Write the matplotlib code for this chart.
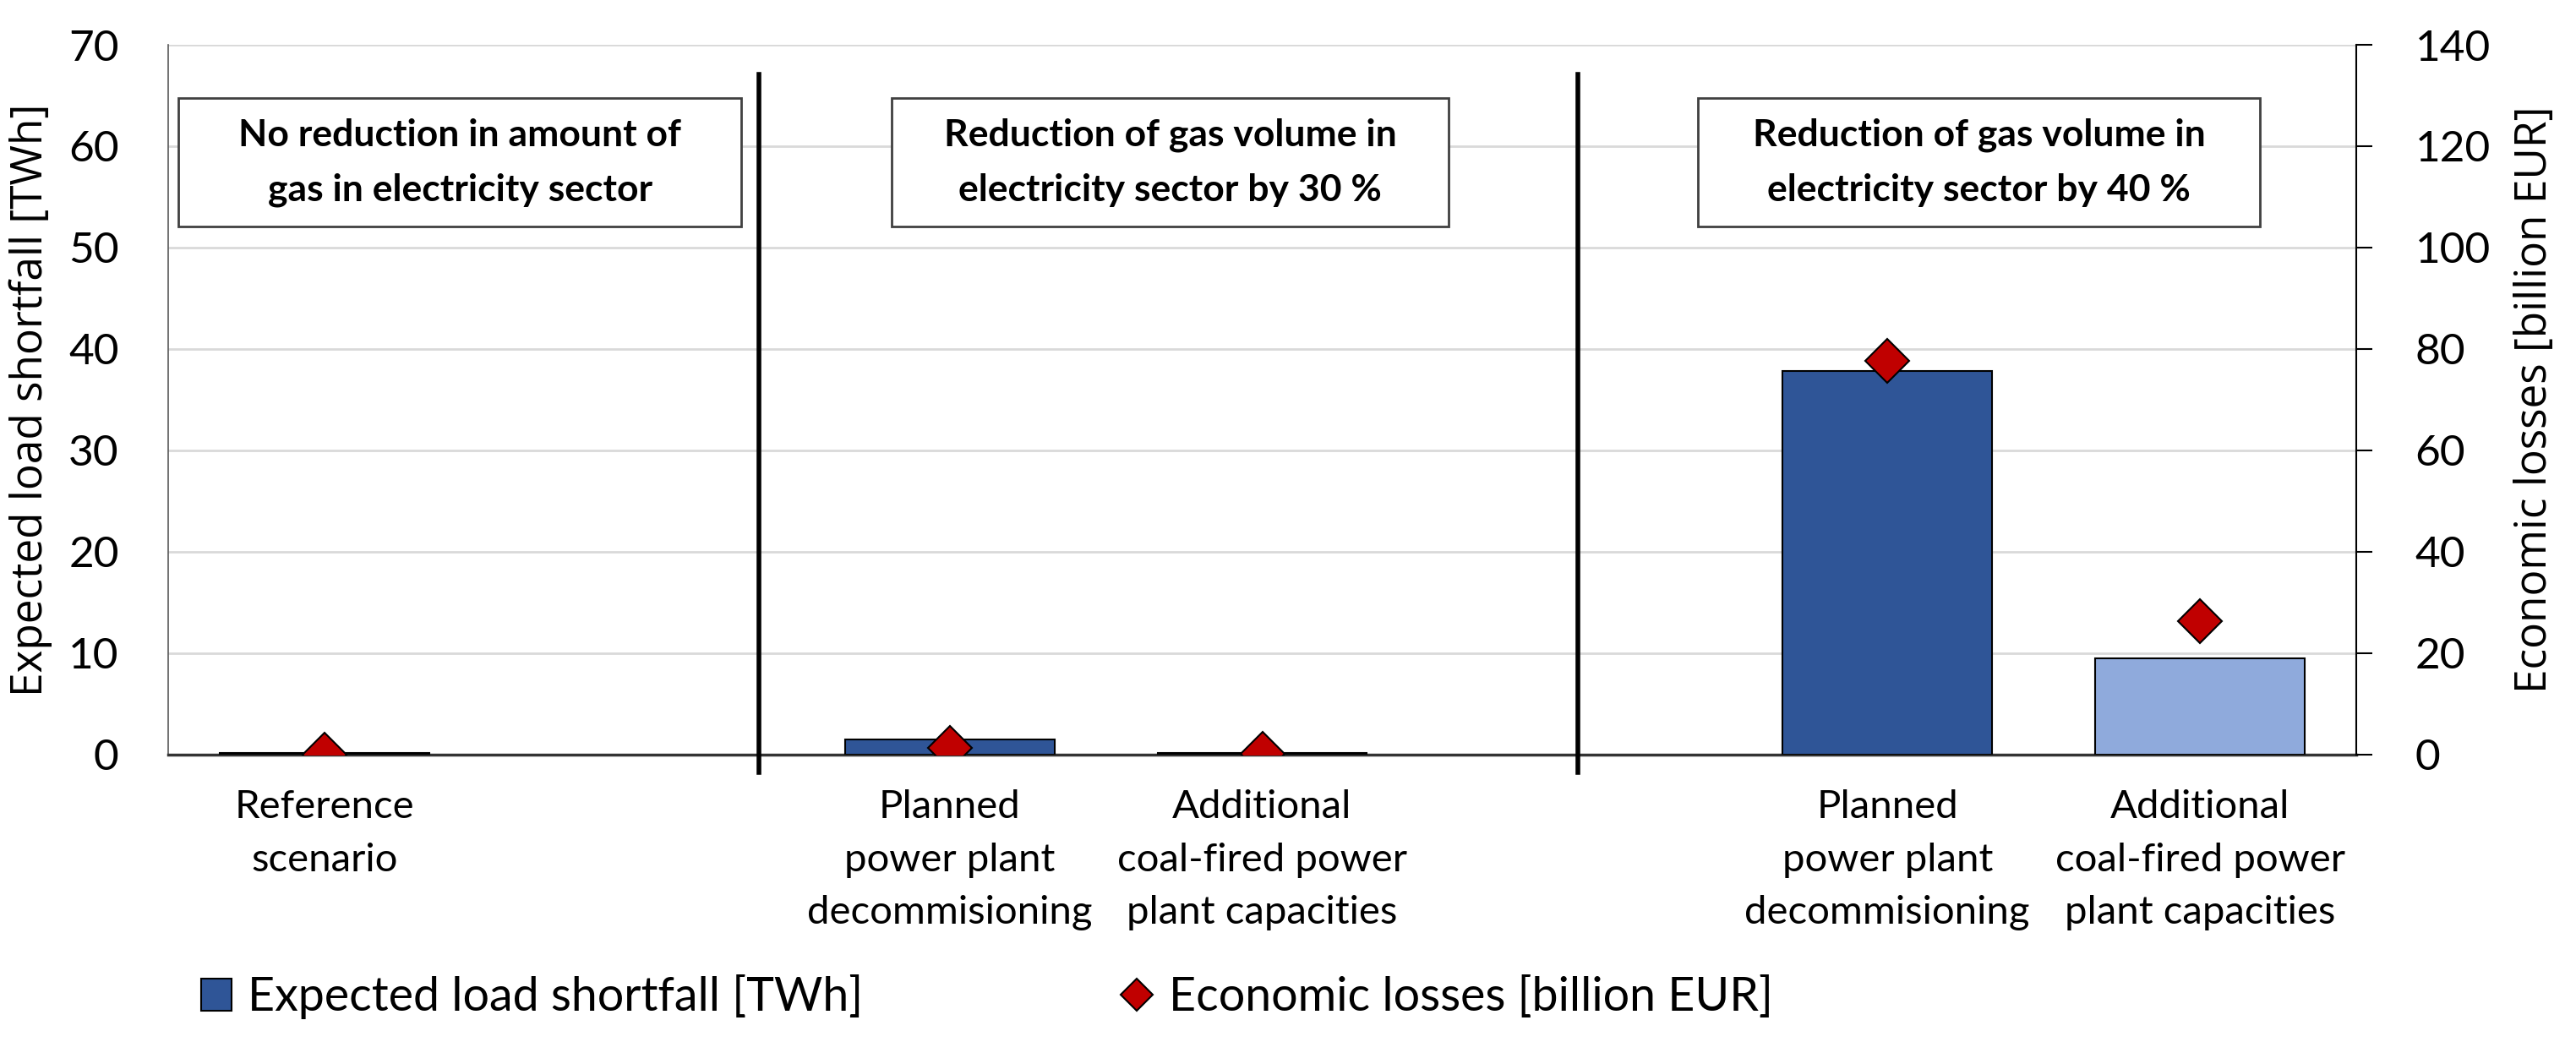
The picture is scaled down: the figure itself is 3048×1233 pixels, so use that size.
import matplotlib
matplotlib.use('Agg')
import matplotlib.pyplot as plt
from matplotlib.patches import Rectangle, Patch
from matplotlib.lines import Line2D
import numpy as np

# data
categories = ['Reference\nscenario', '',
              'Planned\npower plant\ndecommisioning',
              'Additional\ncoal-fired power\nplant capacities', '',
              'Planned\npower plant\ndecommisioning',
              'Additional\ncoal-fired power\nplant capacities']
shortfall_twh = [0.1, np.nan, 1.5, 0.1, np.nan, 37.8, 9.5]
losses_eur = [0.0, np.nan, 1.3, 0.1, np.nan, 77.7, 26.3]
bar_kind = ['planned', None, 'planned', 'additional', None, 'planned', 'additional']
group_titles = ['No reduction in amount of\ngas in electricity sector',
                'Reduction of gas volume in\nelectricity sector by 30 %',
                'Reduction of gas volume in\nelectricity sector by 40 %']

dark_blue = '#2F5597'
light_blue = '#8FAADC'
red = '#C00000'
calibri_like = ['Lato', 'DejaVu Sans']

fig = plt.figure(figsize=(30.48, 12.33), dpi=100)
ax = fig.add_axes([0.0653, 0.276, 0.8494, 0.681])
ax2 = ax.twinx()

x = np.arange(len(categories))
colors = [dark_blue if k == 'planned' else light_blue for k in bar_kind]
ax.bar(x, shortfall_twh, width=0.67, color=colors, edgecolor='black',
       linewidth=1.5, zorder=3)
ax2.plot(x, losses_eur, linestyle='none', marker='D', markersize=26,
         markerfacecolor=red, markeredgecolor='black', markeredgewidth=1.5,
         zorder=5)

ax.set_xlim(-0.5, 6.5)
ax.set_ylim(0, 70)
ax.set_yticks(range(0, 71, 10))
ax2.set_ylim(0, 140)
ax2.set_yticks(range(0, 141, 20))

ax.grid(axis='y', color='#D9D9D9', linewidth=2, zorder=0)
ax.set_axisbelow(True)
ax.set_xticks(x)
ax.set_xticklabels(categories, fontfamily=calibri_like, fontsize=34,
                   linespacing=1.6)
ax.tick_params(axis='x', length=0, pad=30)
ax.tick_params(axis='y', length=0, pad=42, labelsize=37)
for lab in ax.get_yticklabels():
    lab.set_fontfamily(calibri_like)
ax2.tick_params(axis='y', length=14, width=1.5, direction='out', pad=36,
                labelsize=37)
for lab in ax2.get_yticklabels():
    lab.set_fontfamily(calibri_like)

for a in (ax, ax2):
    a.spines['top'].set_visible(False)
ax.spines['left'].set_color('#595959')
ax.spines['left'].set_linewidth(1.2)
ax.spines['right'].set_visible(False)
ax2.spines['left'].set_visible(False)
ax2.spines['bottom'].set_visible(False)
ax2.spines['right'].set_color('black')
ax2.spines['right'].set_linewidth(1.5)
ax.spines['bottom'].set_color('#333333')
ax.spines['bottom'].set_linewidth(2.5)

ax.set_ylabel('Expected load shortfall [TWh]', fontsize=37,
              fontfamily='Open Sans', labelpad=14)
ax2.set_ylabel('Economic losses [billion EUR]', fontsize=37,
               fontfamily='Open Sans', labelpad=20)

# group separators
for xd in [1.39, 4.01]:
    ax.plot([xd, xd], [-1.8, 67.1], color='black', linewidth=4,
            clip_on=False, zorder=6)

# group title boxes
box_spans = [(-0.467, 1.334), (1.815, 3.595), (4.395, 6.191)]
for (x0, x1), title in zip(box_spans, group_titles):
    ax.add_patch(Rectangle((x0, 52.1), x1 - x0, 12.65, facecolor='white',
                           edgecolor='#404040', linewidth=2, zorder=4))
    ax.text((x0 + x1) / 2, 58.4, title, ha='center', va='center',
            fontsize=32, fontweight='bold', fontfamily=calibri_like,
            linespacing=1.75, zorder=5)

# legend
handles = [Patch(facecolor=dark_blue, edgecolor='black', linewidth=1.5),
           Line2D([], [], linestyle='none', marker='D', markersize=19,
                  markerfacecolor=red, markeredgecolor='black',
                  markeredgewidth=1.5)]
fig.legend(handles, ['Expected load shortfall [TWh]',
                     'Economic losses [billion EUR]'],
           loc='center left', bbox_to_anchor=(0.078, 0.043), ncol=2,
           frameon=False, prop={'family': calibri_like, 'size': 40},
           handlelength=0.65, handleheight=0.65, handletextpad=0.35,
           columnspacing=5.5, borderpad=0, borderaxespad=0)

fig.savefig('out.png', dpi=100)
